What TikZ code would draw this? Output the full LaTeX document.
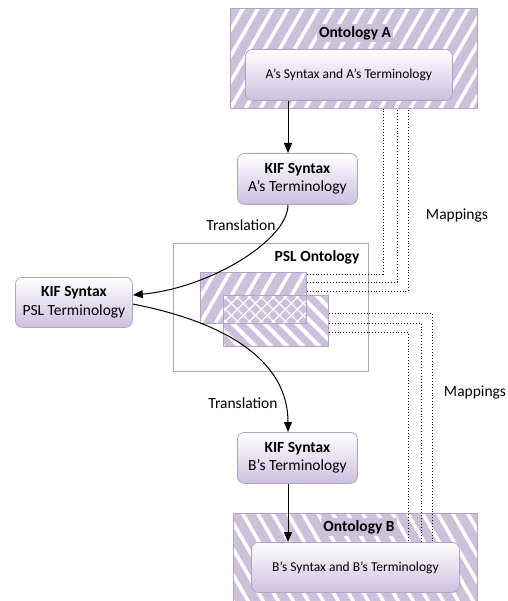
\documentclass[tikz,border=0pt]{standalone}
\usepackage{fontspec}
\setmainfont{Carlito}
\usetikzlibrary{arrows.meta,calc}
\definecolor{lav}{HTML}{CCC1DA}
\definecolor{lavline}{HTML}{B3A2C7}
\definecolor{lavbot}{HTML}{CDC0DF}
\begin{document}
\begin{tikzpicture}[x=1pt,y=-1pt,
  % lavender area crossed by white diagonal bands: period, dx, dy, band width
  stripes/.style n args={4}{fill=lav, draw=lavline, line width=0.8pt, inner sep=0pt,
    path picture={
      \foreach \k in {-30,...,40}
        \draw[white, line width=#4]
          ($(path picture bounding box.south west)+(\k*#1,0)$) -- ++(#2,#3);
    }},
  xhatch/.style={fill=lav, draw=lavline, line width=0.8pt, inner sep=0pt,
    path picture={
      \foreach \k in {-20,...,30}{
        \draw[white, line width=1.2pt]
          ($(path picture bounding box.south west)+(\k*12,0)$) -- ++(100,-100);
        \draw[white, line width=1.2pt]
          ($(path picture bounding box.north west)+(\k*12,0)$) -- ++(100,100);}
    }},
  roundbox/.style={draw=lavline, line width=0.8pt, rounded corners=7pt,
    top color=white, bottom color=lavbot, align=center, inner sep=0pt},
  big/.style={font=\fontsize{15.5}{18.6}\selectfont},
  small/.style={font=\fontsize{13.5}{16}\selectfont},
  title/.style={font=\fontsize{15.5}{18.6}\selectfont\bfseries},
  arr/.style={line width=1pt, -{Triangle[length=10pt,width=8pt]}},
  map/.style={dotted, line width=0.9pt},
]
\useasboundingbox (0,0) rectangle (507,601);

% Ontology A
\node[stripes={15}{120}{-208}{3.6pt}, anchor=north west,
      minimum width=247pt, minimum height=100pt] (ontA) at (230,8) {};
\node[title, fill=lav, inner sep=2pt] (ontAlbl) at (355,33) {Ontology A};
\node[roundbox, small, anchor=north west, minimum width=207pt,
      minimum height=51pt] (innA) at (245,49) {A’s Syntax and A’s Terminology};

% KIF with A's terminology
\node[roundbox, big, anchor=north west, minimum width=120pt,
      minimum height=51pt] (kifA) at (237,153) {\textbf{KIF Syntax}\\A’s Terminology};

% KIF with PSL terminology
\node[roundbox, big, anchor=north west, minimum width=117pt,
      minimum height=50pt] (kifPSL) at (15,277) {\textbf{KIF Syntax}\\PSL Terminology};

% PSL ontology
\node[draw=lavline, line width=0.8pt, anchor=north west, inner sep=0pt,
      minimum width=195pt, minimum height=128pt] (psl) at (173,243) {};
\node[title] (psllbl) at (317,257) {PSL Ontology};
\node[stripes={15}{120}{-208}{3.6pt}, anchor=north west,
      minimum width=106pt, minimum height=51pt] (r1) at (200,272) {};
\node[stripes={16}{-150}{-150}{4pt}, anchor=north west,
      minimum width=105pt, minimum height=51pt] (r2) at (223,295) {};
\node[xhatch, anchor=north west,
      minimum width=83pt, minimum height=28pt] (ovl) at (223,295) {};

% KIF with B's terminology
\node[roundbox, big, anchor=north west, minimum width=120pt,
      minimum height=51pt] (kifB) at (237,432) {\textbf{KIF Syntax}\\B’s Terminology};

% Ontology B
\node[stripes={15}{-120}{-208}{3.6pt}, anchor=north west,
      minimum width=244pt, minimum height=88pt] (ontB) at (233,513) {};
\node[title, fill=lav, inner sep=2pt] (ontBlbl) at (359,527) {Ontology B};
\node[roundbox, small, anchor=north west, minimum width=208pt,
      minimum height=50pt] (innB) at (251,542) {B’s Syntax and B’s Terminology};

% labels
\node[big] (tr1) at (241,225) {Translation};
\node[big] (tr2) at (243,403) {Translation};
\node[big] (map1) at (457,216) {Mappings};
\node[big] (map2) at (475,392) {Mappings};

% translations
\draw[arr] ($(innA.south west)+(43,0)$) -- ($(kifA.north west)+(51,0)$);
\draw[arr] ($(kifA.south west)+(51,0)$) .. controls (288,240) and (210,288)
           .. ($(kifPSL.north east)+(0,18)$);
\draw[arr] ($(kifPSL.north east)+(0,27)$) .. controls (225,322) and (288,360)
           .. ($(kifB.north west)+(51,0)$);
\draw[arr] ($(kifB.south west)+(51,0)$) -- ($(innB.north west)+(37,0)$);

% mappings
\draw[map] ($(r1.north east)+(0,2)$)  -| ($(ontA.south west)+(153,0)$);
\draw[map] ($(r1.north east)+(0,10)$) -| ($(ontA.south west)+(167,0)$);
\draw[map] ($(r1.north east)+(0,19)$) -| ($(ontA.south west)+(178,0)$);
\draw[map] ($(r2.north east)+(0,18)$) -| ($(innB.north west)+(181,0)$);
\draw[map] ($(r2.north east)+(0,28)$) -| ($(innB.north west)+(170,0)$);
\draw[map] ($(r2.north east)+(0,37)$) -| ($(innB.north west)+(157,0)$);
\end{tikzpicture}
\end{document}
